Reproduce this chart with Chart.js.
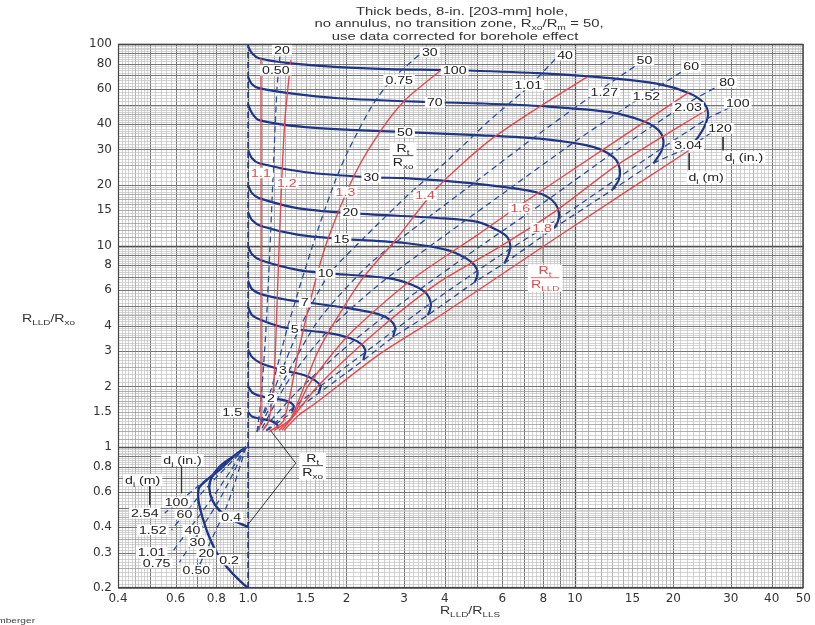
<!DOCTYPE html>
<html lang="en">
<head>
<meta charset="UTF-8">
<title>Thick beds, 8-in. hole - Rint chart</title>
<script src="https://cdn.jsdelivr.net/npm/chart.js@4.4.1/dist/chart.umd.min.js"></script>
<style>
  html, body { margin: 0; padding: 0; background: #fff; }
</style>
</head>
<body>
<canvas id="chart" width="815" height="625"></canvas>
<script>
// tick labels
const xTicks = [0.4, 0.6, 0.8, 1, 1.5, 2, 3, 4, 6, 8, 10, 15, 20, 30, 40, 50];
const yTicks = [0.2, 0.3, 0.4, 0.6, 0.8, 1, 1.5, 2, 3, 4, 6, 8, 10, 15, 20, 30, 40, 60, 80, 100];

// Rt/Rxo curves, points [RLLD/RLLS, RLLD/Rxo], di increasing along each curve
const rt100 = [[1.00,97.5],[1.028,90.0],[1.080,85.0],[1.332,80.3],[1.890,76.7],[2.683,75.0],[4.289,74.1],[7.665,71.7],[12.78,67.7],[18.13,63.2],[22.37,57.0],[24.67,51.4],[25.55,45.4],[25.02,39.6],[23.82,34.5],[22.37,30.8]];
const rt70 = [[1.00,68.5],[1.028,63.2],[1.080,60.4],[1.332,57.0],[1.890,53.8],[3.727,51.4],[5.037,50.8],[8.050,49.1],[12.78,45.9],[16.21,41.4],[18.01,37.4],[18.65,33.3],[18.39,29.4],[17.39,25.6]];
const rt50 = [[1.00,50.3],[1.028,45.4],[1.080,41.9],[1.501,38.7],[3.021,36.5],[5.037,35.3],[8.050,33.7],[11.42,30.8],[13.14,27.4],[13.70,24.2],[13.61,21.1],[12.96,18.8]];
const rt30 = [[1.00,29.7],[1.028,27.1],[1.080,25.6],[1.501,23.1],[2.382,21.8],[3.021,21.6],[4.797,20.4],[7.145,18.8],[8.050,17.8],[8.696,16.2],[8.941,14.5],[8.878,13.2],[8.635,12.2]];
const rt20 = [[1.00,19.9],[1.028,18.2],[1.080,17.2],[1.429,15.3],[2.056,14.5],[3.806,13.7],[5.037,13.1],[5.794,11.9],[6.214,11.0],[6.346,10.0],[6.257,8.96],[6.085,8.18]];
const rt15 = [[1.00,14.6],[1.028,13.4],[1.095,12.5],[1.429,11.3],[1.931,10.8],[3.021,10.3],[4.082,9.49],[4.632,8.66],[4.932,7.99],[5.037,7.38],[5.002,6.89],[4.932,6.58]];
const rt10 = [[1.00,9.93],[1.028,9.06],[1.095,8.46],[1.429,7.55],[1.726,7.30],[2.683,6.89],[3.196,6.36],[3.500,5.81],[3.624,5.18],[3.599,4.78],[3.549,4.52]];
const rt7 = [[1.00,6.66],[1.028,6.08],[1.095,5.74],[1.332,5.36],[1.491,5.24],[2.028,4.89],[2.501,4.57],[2.721,4.27],[2.818,3.94],[2.798,3.68],[2.779,3.51]];
const rt5 = [[1.00,4.95],[1.028,4.52],[1.095,4.27],[1.242,3.98],[1.389,3.85],[1.763,3.68],[2.056,3.47],[2.221,3.24],[2.284,3.03],[2.268,2.83],[2.253,2.70]];
const rt3 = [[1.00,3.03],[1.028,2.80],[1.095,2.61],[1.278,2.41],[1.480,2.28],[1.598,2.15],[1.667,2.01],[1.655,1.92],[1.644,1.85]];
const rt2 = [[1.00,2.01],[1.028,1.87],[1.095,1.79],[1.175,1.75],[1.287,1.71],[1.360,1.65],[1.380,1.58],[1.360,1.51]];
const rt15b = [[1.00,1.49],[1.028,1.42],[1.095,1.38],[1.175,1.35],[1.225,1.30],[1.234,1.24]];
const rt04 = [[1.00,0.401],[0.875,0.444],[0.816,0.487],[0.777,0.546],[0.761,0.626],[0.772,0.702],[0.816,0.796],[0.894,0.892],[0.986,1.00]];
const rt02 = [[1.00,0.200],[0.959,0.212],[0.888,0.240],[0.816,0.285],[0.761,0.358],[0.725,0.450],[0.705,0.546],[0.710,0.633],[0.816,0.769],[0.907,0.902],[0.986,1.00]];

// Rt/RLLD lines
const rl11 = [[1.095,85.0],[1.095,1.36],[1.080,1.21]];
const rl12 = [[1.351,83.1],[1.296,41.9],[1.260,16.8],[1.234,6.73],[1.200,2.15],[1.158,1.36],[1.110,1.21]];
const rl13 = [[3.887,74.1],[3.021,52.6],[2.554,37.4],[2.130,22.9],[1.763,11.0],[1.609,6.73],[1.429,3.03],[1.287,1.36],[1.158,1.19]];
const rl14 = [[10.88,68.5],[7.665,48.0],[5.402,32.6],[3.806,19.5],[2.818,10.6],[2.221,6.73],[1.644,3.03],[1.351,1.39],[1.200,1.21]];
const rl16 = [[22.37,57.7],[12.78,31.5],[6.805,15.9],[5.037,11.3],[3.151,6.73],[2.028,3.59],[1.532,2.03],[1.380,1.44],[1.242,1.21]];
const rl18 = [[25.19,46.9],[13.42,25.0],[8.817,15.0],[5.794,9.71],[3.806,6.51],[2.501,3.81],[1.644,2.03],[1.409,1.49],[1.269,1.21]];
const rl20 = [[22.37,29.7],[8.817,11.0],[3.806,4.41],[2.501,2.86],[1.609,1.65],[1.429,1.44],[1.287,1.21]];

// di lines (dashed), Rt/Rxo > 1 side
const di20 = [[1.065,1.19],[1.095,1.71],[1.134,3.81],[1.166,9.49],[1.191,21.1],[1.225,59.0],[1.251,87.0]];
const di30 = [[1.065,1.19],[1.175,1.92],[1.314,3.81],[1.459,6.73],[1.644,12.3],[1.851,21.1],[2.028,29.7],[2.382,48.6],[2.740,66.1],[3.380,90.0]];
const di40 = [[1.065,1.19],[1.200,1.92],[1.429,3.81],[1.763,7.13],[2.221,10.6],[3.085,17.8],[4.082,26.5],[5.402,40.9],[7.297,62.5],[8.817,86.0]];
const di50 = [[1.095,1.29],[1.287,2.15],[1.644,4.27],[2.332,7.99],[3.310,12.6],[5.037,21.1],[7.665,35.3],[11.67,57.7],[15.43,78.5]];
const di60 = [[1.103,1.24],[1.332,2.15],[1.763,3.81],[2.501,6.36],[3.806,10.6],[6.214,18.8],[10.14,33.3],[15.98,54.5],[21.60,74.1]];
const di80 = [[1.118,1.24],[1.429,1.92],[2.028,3.21],[3.085,5.48],[5.037,9.71],[8.221,16.8],[13.42,29.7],[21.60,49.7],[27.40,61.8]];
const di100 = [[1.134,1.21],[1.532,1.81],[2.332,3.03],[3.549,5.06],[5.794,8.76],[9.456,14.5],[15.43,25.0],[25.55,42.8],[30.0,48.6]];
const di120 = [[1.142,1.21],[1.287,1.39],[1.644,1.85],[2.253,2.70],[2.779,3.51],[3.549,4.52],[4.932,6.58],[6.085,8.18],[8.635,12.2],[12.96,18.8],[17.39,25.6],[22.37,30.8],[26.27,36.5]];
// di lines, Rt/Rxo < 1 side
const diLow100 = [[0.986,1.0],[0.710,0.648],[0.556,0.471]];
const diLow60 = [[0.986,1.0],[0.735,0.612],[0.583,0.388]];
const diLow40 = [[0.986,1.0],[0.788,0.578],[0.583,0.298]];
const diLow30 = [[0.986,1.0],[0.816,0.546],[0.617,0.269]];
const diLow20 = [[0.986,1.0],[0.863,0.516],[0.710,0.260]];
const axisLine = [[1, 0.2], [1, 100]];

// label texts and anchors
const curveLabels = [['100',4.289,74.1],['70',3.727,51.4],['50',3.021,36.5],['30',2.382,21.8],['20',2.056,14.6],['15',1.931,10.8],['10',1.726,7.30],['7',1.491,5.24],['5',1.389,3.85],['3',1.278,2.41],['2',1.175,1.75],['1.5',0.894,1.49],['0.4',0.888,0.450],['0.2',0.875,0.275]];
const redLabels = [['1.1',1.095,22.9],['1.2',1.314,20.4],['1.3',1.986,18.4],['1.4',3.48,17.8],['1.6',6.805,15.3],['1.8',7.938,12.2]];
const diLabels = [['20',1.269,93.2],['0.50',1.216,74.1],['30',3.599,91.1],['0.75',2.90,66.1],['40',9.33,88.0],['1.01',7.20,62.5],['50',16.32,83.1],['1.27',12.3,57.7],['60',22.68,77.6],['1.52',16.55,55.1],['80',29.2,64.6],['2.03',22.2,48.6],['100',31.5,50.8],['120',27.8,38.2],['3.04',22.2,31.5],
  ['100',0.604,0.533],['2.54',0.483,0.471],['60',0.639,0.465],['1.52',0.511,0.388],['40',0.676,0.388],['30',0.700,0.338],['1.01',0.507,0.301],['20',0.745,0.298],['0.75',0.525,0.266],['0.50',0.695,0.245]];
const leaders = [
  { pts: [[1.158,1.24],[1.399,0.833],[0.986,0.401]], color: '#333' },
  { pts: [[28.4,34.5],[28.4,29.7]], color: '#333' },
  { pts: [[22.37,28.7],[22.37,23.7]], color: '#333' },
  { pts: [[0.626,0.814],[0.626,0.591]], color: '#333' },
  { pts: [[0.500,0.648],[0.500,0.516]], color: '#333' },
  { pts: [[8.0,11.7],[8.0,8.27]], color: '#888' }
];

const NAVY = '#1f3687';
const DASHC = '#2b4d9e';
const RED = '#e4484c';
const SX = 1.35;   // the scanned lettering is wide

function solid(d, w) {
  return { data: d, showLine: true, borderColor: NAVY, borderWidth: w || 2.2, tension: 0.3, pointRadius: 0, fill: false };
}
function dashed(d) {
  return { data: d, showLine: true, borderColor: DASHC, borderWidth: 1.3, borderDash: [6, 4], tension: 0.25, pointRadius: 0, fill: false };
}
function red(d) {
  return { data: d, showLine: true, borderColor: RED, borderWidth: 1.4, tension: 0.25, pointRadius: 0, fill: false };
}

const datasets = [];
[rl11, rl12, rl13, rl14, rl16, rl18, rl20].forEach(d => datasets.push(red(d)));
[di20, di30, di40, di50, di60, di80, di100, di120, diLow100, diLow60, diLow40, diLow30, diLow20].forEach(d => datasets.push(dashed(d)));
datasets.push(Object.assign(dashed(axisLine), { borderWidth: 1.6, borderColor: NAVY, tension: 0 }));
[rt100, rt70, rt50, rt30, rt20, rt15, rt10, rt7, rt5, rt3, rt2, rt15b].forEach(d => datasets.push(solid(d)));
datasets.push(solid(rt04, 2.4), solid(rt02, 2.4));
leaders.forEach(l => datasets.push({ data: l.pts, showLine: true, borderColor: l.color, borderWidth: 1, tension: 0, pointRadius: 0 }));

// log paper grid values with a weight level
function gridLevels(min, max) {
  const out = [];
  [0.1, 1, 10, 100].forEach(d => {
    [[1, 2, 0.05], [2, 5, 0.1], [5, 10, 0.2]].forEach(([a, b, s]) => {
      const n = Math.round((b - a) / s);
      for (let i = 0; i < n; i++) {
        const m = +(a + i * s).toFixed(3);
        const v = m * d;
        if (v < min * 0.999 || v > max * 1.001) continue;
        let level = 3;
        if (Math.abs(m - 1) < 1e-6) level = 0;
        else if (Math.abs(m - Math.round(m)) < 1e-6) level = 1;
        else if ((m < 2 && Math.abs(m * 10 - Math.round(m * 10)) < 1e-6) || (m < 5 && Math.abs(m * 2 - Math.round(m * 2)) < 1e-6)) level = 2;
        out.push([v, level]);
      }
    });
  });
  return out.sort((p, q) => q[1] - p[1]);
}
const gridStyle = [['#505050', 1.3], ['#767676', 1], ['#9c9c9c', 0.8], ['#c2c2c2', 0.7]];

function drawGrid(chart) {
  const { ctx, chartArea: a, scales } = chart;
  ctx.save();
  gridLevels(0.4, 50).forEach(([v, l]) => {
    const px = Math.round(scales.x.getPixelForValue(v)) + 0.5;
    ctx.strokeStyle = gridStyle[l][0]; ctx.lineWidth = gridStyle[l][1];
    ctx.beginPath(); ctx.moveTo(px, a.top); ctx.lineTo(px, a.bottom); ctx.stroke();
  });
  gridLevels(0.2, 100).forEach(([v, l]) => {
    const py = Math.round(scales.y.getPixelForValue(v)) + 0.5;
    ctx.strokeStyle = gridStyle[l][0]; ctx.lineWidth = gridStyle[l][1];
    ctx.beginPath(); ctx.moveTo(a.left, py); ctx.lineTo(a.right, py); ctx.stroke();
  });
  ctx.strokeStyle = '#444'; ctx.lineWidth = 1.2;
  ctx.strokeRect(a.left + 0.5, a.top + 0.5, a.right - a.left - 1, a.bottom - a.top - 1);
  ctx.restore();
}

// text helpers (parts: [text, isSubscript])
function richWidth(ctx, parts, size) {
  let w = 0;
  parts.forEach(p => { ctx.font = (p[1] ? size * 0.7 : size) + 'px Arial'; w += ctx.measureText(p[0]).width; });
  return w * SX;
}
function rich(ctx, parts, px, py, size, color, align) {
  const w = richWidth(ctx, parts, size) / SX;
  ctx.save();
  ctx.translate(px, py); ctx.scale(SX, 1);
  let cx = align === 'center' ? -w / 2 : align === 'right' ? -w : 0;
  ctx.fillStyle = color; ctx.textAlign = 'left'; ctx.textBaseline = 'alphabetic';
  parts.forEach(p => {
    const s = p[1] ? size * 0.7 : size;
    ctx.font = s + 'px Arial';
    ctx.fillText(p[0], cx, p[1] ? size * 0.28 : 0);
    cx += ctx.measureText(p[0]).width;
  });
  ctx.restore();
}
function boxText(ctx, str, px, py, size, color) {
  ctx.font = size + 'px Arial';
  const w = ctx.measureText(str).width * SX;
  ctx.fillStyle = '#fff';
  ctx.fillRect(px - w / 2 - 2, py - size * 0.5, w + 4, size);
  rich(ctx, [[str]], px, py + size * 0.36, size, color, 'center');
}
function fraction(ctx, top, bottom, px, py, size, color) {
  const w = Math.max(richWidth(ctx, top, size), richWidth(ctx, bottom, size));
  ctx.fillStyle = '#fff';
  ctx.fillRect(px - w / 2 - 3, py - size - 2, w + 6, 2 * size + 6);
  rich(ctx, top, px, py - 3, size, color, 'center');
  rich(ctx, bottom, px, py + size + 0.5, size, color, 'center');
  ctx.strokeStyle = color; ctx.lineWidth = 0.8;
  ctx.beginPath(); ctx.moveTo(px - w / 2, py + 0.5); ctx.lineTo(px + w / 2, py + 0.5); ctx.stroke();
}

function drawLabels(chart) {
  const { ctx, scales } = chart;
  const at = (x, y) => [scales.x.getPixelForValue(x), scales.y.getPixelForValue(y)];
  ctx.save();
  curveLabels.forEach(([t, x, y]) => { const p = at(x, y); boxText(ctx, t, p[0], p[1], 10.5, '#222'); });
  redLabels.forEach(([t, x, y]) => { const p = at(x, y); boxText(ctx, t, p[0], p[1], 10.5, RED); });
  diLabels.forEach(([t, x, y]) => { const p = at(x, y); boxText(ctx, t, p[0], p[1], 10.5, '#222'); });
  let p = at(2.98, 28.1);
  fraction(ctx, [['R'], ['t', 1]], [['R'], ['xo', 1]], p[0], p[1], 10.5, '#222');
  p = at(1.576, 0.814);
  fraction(ctx, [['R'], ['t', 1]], [['R'], ['xo', 1]], p[0], p[1], 10.5, '#222');
  p = at(8.106, 6.97);
  fraction(ctx, [['R'], ['t', 1]], [['R'], ['LLD', 1]], p[0], p[1], 10.5, RED);
  [[32.9, 27.4], [0.630, 0.862]].forEach(([x, y]) => {
    const q = at(x, y);
    const w = richWidth(ctx, [['d'], ['i', 1], [' (in.)']], 10.5);
    ctx.fillStyle = '#fff'; ctx.fillRect(q[0] - w / 2 - 2, q[1] - 6, w + 4, 12);
    rich(ctx, [['d'], ['i', 1], [' (in.)']], q[0], q[1] + 3.8, 10.5, '#222', 'center');
  });
  [[25.2, 21.8], [0.476, 0.686]].forEach(([x, y]) => {
    const q = at(x, y);
    const w = richWidth(ctx, [['d'], ['i', 1], [' (m)']], 10.5);
    ctx.fillStyle = '#fff'; ctx.fillRect(q[0] - w / 2 - 2, q[1] - 6, w + 4, 12);
    rich(ctx, [['d'], ['i', 1], [' (m)']], q[0], q[1] + 3.8, 10.5, '#222', 'center');
  });
  ctx.restore();
}

function drawTitles(chart) {
  const ctx = chart.ctx;
  ctx.save();
  rich(ctx, [['Thick beds, 8-in. [203-mm] hole,']], 462, 15, 11, '#333', 'center');
  rich(ctx, [['no annulus, no transition zone, R'], ['xo', 1], ['/R'], ['m', 1], [' = 50,']], 459, 27, 11, '#333', 'center');
  rich(ctx, [['use data corrected for borehole effect']], 455, 39.5, 11, '#333', 'center');
  rich(ctx, [['R'], ['LLD', 1], ['/R'], ['xo', 1]], 22, 322, 10.5, '#333', 'left');
  rich(ctx, [['R'], ['LLD', 1], ['/R'], ['LLS', 1]], 470, 614, 10.5, '#333', 'center');
  rich(ctx, [['Schlumberger']], 35, 623, 7.5, '#444', 'right');
  ctx.restore();
}

const paperPlugin = {
  id: 'paper',
  beforeDatasetsDraw: drawGrid,
  afterDatasetsDraw: drawLabels,
  afterDraw: drawTitles
};

new Chart(document.getElementById('chart'), {
  type: 'scatter',
  data: { datasets: datasets },
  options: {
    responsive: false,
    animation: false,
    devicePixelRatio: 1,
    events: [],
    layout: { padding: { top: 44, right: 7, left: 0, bottom: 0 } },
    plugins: { legend: { display: false }, tooltip: { enabled: false }, title: { display: false } },
    scales: {
      x: {
        type: 'logarithmic', min: 0.4, max: 50,
        grid: { display: false, drawTicks: false },
        border: { display: false },
        afterBuildTicks: s => { s.ticks = xTicks.map(v => ({ value: v })); },
        afterFit: s => { s.height = 37; },
        ticks: { autoSkip: false, maxRotation: 0, padding: 4, color: '#333', font: { family: 'DejaVu Sans', size: 12 },
          callback: v => (v === 1 ? '1.0' : String(v)) }
      },
      y: {
        type: 'logarithmic', min: 0.2, max: 100,
        grid: { display: false, drawTicks: false },
        border: { display: false },
        afterBuildTicks: s => { s.ticks = yTicks.map(v => ({ value: v })); },
        afterFit: s => { s.width = 118; },
        ticks: { autoSkip: false, padding: 6, color: '#333', font: { family: 'DejaVu Sans', size: 12 },
          callback: v => String(v) }
      }
    }
  },
  plugins: [paperPlugin]
});
</script>
</body>
</html>
